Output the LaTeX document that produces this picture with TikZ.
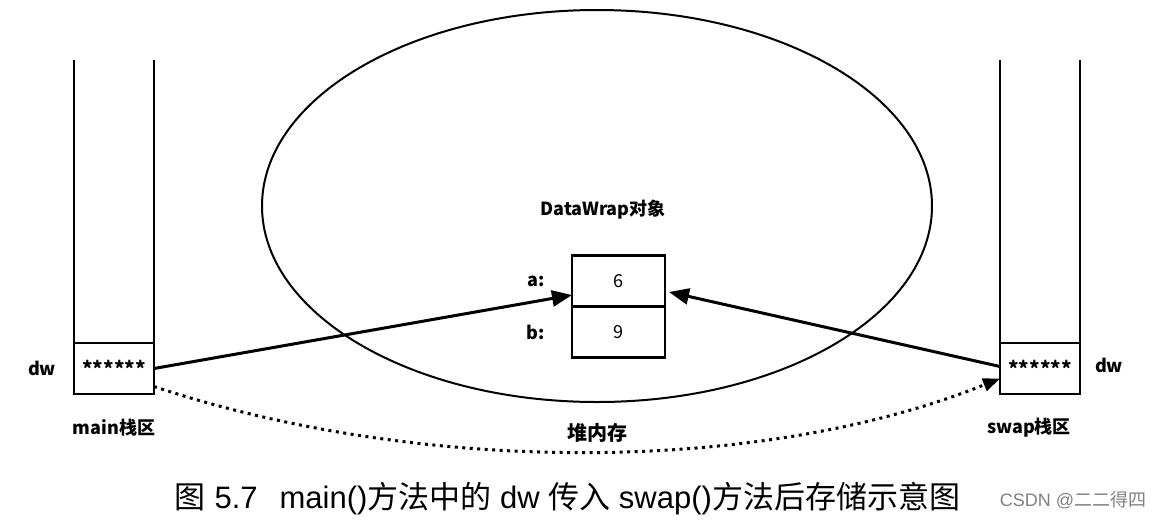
\documentclass[tikz,border=0pt]{standalone}
\usepackage{fontspec}
\setmainfont{Liberation Sans}
\newfontfamily\cjk{Noto Sans CJK SC}
\usetikzlibrary{arrows.meta,positioning}

\begin{document}
\begin{tikzpicture}[
  x=1pt, y=-1pt,
  cell/.style={draw, line width=2.8pt, minimum width=80pt, minimum height=51pt, inner sep=0pt, outer sep=0pt, font=\cjk\bfseries\fontsize{20}{20}\selectfont},
  field/.style={draw, line width=2.8pt, minimum width=93pt, minimum height=51pt, inner sep=0pt, outer sep=0pt, font=\cjk\fontsize{18}{18}\selectfont},
  wall/.style={line width=2.8pt, line cap=rect},
  lbl/.style={font=\cjk\bfseries\fontsize{18}{18}\selectfont, inner sep=0pt},
  arr/.style={-{Triangle[length=20pt,width=16pt]}, line width=3pt},
  link/.style={-{Triangle[length=17pt,width=13pt]}, line width=3pt, dash pattern=on 3pt off 4.5pt}
]
\useasboundingbox (0,0) rectangle (1157,520);

% stack frames
\node[cell] (mainCell) at (114,368.5) {\raisebox{-5pt}{******}};
\node[cell] (swapCell) at (1040,368.5) {\raisebox{-5pt}{******}};
\draw[wall] (mainCell.north west) -- ++(0,-282);
\draw[wall] (mainCell.north east) -- ++(0,-282);
\draw[wall] (swapCell.north west) -- ++(0,-282);
\draw[wall] (swapCell.north east) -- ++(0,-282);

% heap
\draw[line width=2pt] (597,206) ellipse [x radius=335, y radius=196];
\node[lbl] (objTitle) at (603,210) {DataWrap对象};
\node[field] (aCell) at (618.5,281) {6};
\node[field, below=0pt of aCell] (bCell) {9};
\node[lbl, left=27pt of aCell] (aName) {a:};
\node[lbl, left=27pt of bCell] (bName) {b:};

% labels
\node[lbl] (mainDw) at (42,368) {dw};
\node[lbl] (swapDw) at (1109,365) {dw};
\node[lbl] (mainName) at (114,428) {main栈区};
\node[lbl] (swapName) at (1029,428) {swap栈区};
\node[lbl, font=\cjk\bfseries\fontsize{20}{20}\selectfont] (heapName) at (597,433) {堆内存};

% references
\draw[arr] (mainCell.east) -- ([yshift=-14pt]aCell.west);
\draw[arr] ([yshift=2pt]swapCell.west) -- ([yshift=-11pt,xshift=4pt]aCell.east);
\draw[link] ([yshift=-18pt]mainCell.east) .. controls (420,475) and (760,475) .. ([yshift=-10pt]swapCell.west);

% caption
\node (caption) at (567.5,499) {\fontsize{31}{31}\selectfont{\cjk 图} 5.7\hspace{22pt}main(){\cjk 方法中的} dw {\cjk 传入} swap(){\cjk 方法后存储示意图}};
\node[text=gray] (mark) at (1073,500) {\fontsize{18}{18}\selectfont CSDN @{\cjk 二二得四}};
\end{tikzpicture}
\end{document}
